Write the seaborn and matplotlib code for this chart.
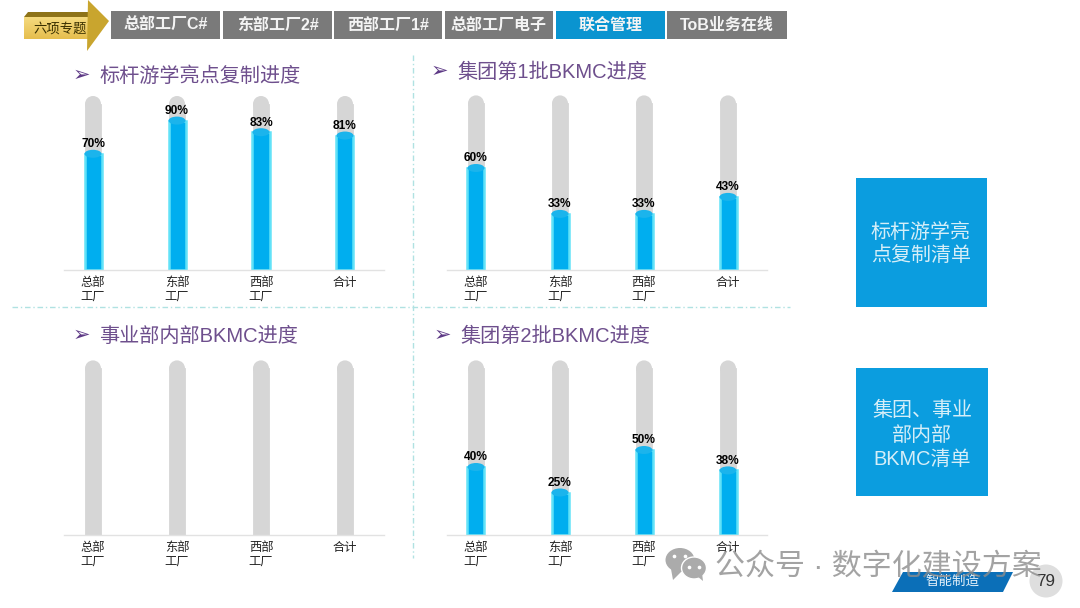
#!/usr/bin/env python3

import matplotlib
matplotlib.use('Agg')
import matplotlib.pyplot as plt
import numpy as np
import pandas as pd
import seaborn as sns
from matplotlib.colors import LinearSegmentedColormap
from matplotlib.patches import Ellipse, Polygon, Rectangle, Circle

# data
sites = ['总部\n工厂', '东部\n工厂', '西部\n工厂', '合计']
benchmark_values = [0.70, 0.90, 0.83, 0.81]
batch1_values = [0.60, 0.33, 0.33, 0.43]
internal_values = []
batch2_values = [0.40, 0.25, 0.50, 0.38]
track_values = [0.98, 0.98, 0.98, 0.98]
benchmark_tracks = [1.0, 1.0, 1.0, 1.0]

benchmark_title = '标杆游学亮点复制进度'
batch1_title = '集团第1批BKMC进度'
internal_title = '事业部内部BKMC进度'
batch2_title = '集团第2批BKMC进度'

tab_labels = ['总部工厂C#', '东部工厂2#', '西部工厂1#', '总部工厂电子', '联合管理', 'ToB业务在线']

W, H = 1080, 608
FONT = ['Liberation Sans', 'Noto Sans CJK SC', 'DejaVu Sans']

sns.set_theme(style='white')
plt.rcParams['font.family'] = FONT
plt.rcParams['axes.unicode_minus'] = False


def add_panel(fig, left, baseline, values, tracks, scale, title, title_x, title_y):
    # axes box is 320px wide with the first bar 29px in from its left edge
    ax = fig.add_axes([left / W, 1 - baseline / H, 320 / W, 180 / H])
    ax.patch.set_alpha(0)

    track_df = pd.DataFrame({'site': sites, 'value': tracks})
    sns.barplot(data=track_df, x='site', y='value', color='#D6D6D6', width=16 / 84,
                saturation=1, errorbar=None, edgecolor='#D6D6D6', linewidth=0.6,
                ax=ax, zorder=1)
    for bar in ax.containers[-1]:
        ax.add_patch(Ellipse((bar.get_x() + bar.get_width() / 2, bar.get_height()),
                             bar.get_width(), 16 / scale,
                             color='#D6D6D6', lw=0, zorder=1))

    if values:
        df = pd.DataFrame({'site': sites, 'value': values})
        sns.barplot(data=df, x='site', y='value', color='#00AEEF', width=17 / 84,
                    saturation=1, errorbar=None, edgecolor='#62E2F8', linewidth=1.8,
                    ax=ax, zorder=2)
        bars = ax.containers[-1]
        for bar in bars:
            ax.add_patch(Ellipse((bar.get_x() + bar.get_width() / 2, bar.get_height()),
                                 bar.get_width(), 8 / scale,
                                 color='#1BB4EC', lw=0, zorder=3))
        ax.bar_label(bars, labels=[f'{v:.0%}' for v in values], padding=2.6,
                     fontsize=8.6, fontweight='bold', color='black', zorder=4)

    ax.set_xlim(-29 / 84, 291 / 84)
    ax.set_ylim(0, 180 / scale)
    ax.set_xlabel('')
    ax.set_ylabel('')
    ax.set_yticks([])
    ax.tick_params(axis='x', length=0, pad=5, labelsize=8.8, labelcolor='#222222')
    for label in ax.get_xticklabels():
        label.set_linespacing(1.15)
    sns.despine(ax=ax, left=True)
    ax.spines['bottom'].set_color('#E2E2E2')
    ax.spines['bottom'].set_linewidth(1)

    fig.text((title_x + 18) / W, 1 - (title_y + 1) / H, title, fontsize=14.5, color='#6E4F8D',
             ha='left', va='center')
    fig.text(title_x / W, 1 - title_y / H, '➢', fontsize=15, color='#5E3A86',
             ha='center', va='center', family=['DejaVu Sans'])
    return ax


fig = plt.figure(figsize=(W / 100, H / 100), dpi=100, facecolor='white')

add_panel(fig, 64, 270, benchmark_values, benchmark_tracks, 166, benchmark_title, 81, 75)
add_panel(fig, 447, 270, batch1_values, track_values, 170, batch1_title, 439, 71)
add_panel(fig, 64, 535, internal_values, track_values, 170, internal_title, 81, 335)
add_panel(fig, 447, 535, batch2_values, track_values, 170, batch2_title, 442, 335)

# page furniture, drawn in pixel coordinates over the whole figure
deco = fig.add_axes([0, 0, 1, 1])
deco.axis('off')
deco.patch.set_alpha(0)

# dotted dividers
deco.plot([12, 790], [307, 307], color='#B0E2E2', lw=1, ls=(0, (4, 2, 1, 2)))
deco.plot([413, 413], [55, 558], color='#B0E2E2', lw=1, ls=(0, (4, 2, 1, 2)))

# gold arrow, body with a vertical gradient
gold = LinearSegmentedColormap.from_list('gold', ['#F5DA7E', '#E6BE4E'])
body = Polygon([(24, 17), (88, 17), (88, 39), (24, 39)], closed=True, transform=deco.transData,
               fc='none', lw=0)
deco.add_patch(body)
grad = deco.imshow(np.linspace(0, 1, 32).reshape(-1, 1), cmap=gold, aspect='auto',
                   extent=(24, 88, 39, 17), zorder=1)
grad.set_clip_path(body)
deco.add_patch(Polygon([(24, 17), (28, 12), (88, 12), (88, 17)], closed=True, color='#8E7318',
                       lw=0, zorder=2))
deco.add_patch(Polygon([(88, 0), (109, 21), (87, 51)], closed=True, color='#C9A52E', lw=0, zorder=2))
deco.text(60, 29, '六项专题', fontsize=9.6, color='#3A3000', ha='center', va='center', zorder=3)

# header tabs
tab_edges = [(111, 220), (223, 332), (334, 442), (445, 553), (556, 665), (667, 787)]
for label, (x0, x1) in zip(tab_labels, tab_edges):
    face = '#0A94D0' if label == '联合管理' else '#7A7A7A'
    deco.add_patch(Rectangle((x0, 11), x1 - x0, 28, color=face, lw=0, zorder=2))
    deco.text((x0 + x1) / 2, 25, label, fontsize=11.5, fontweight='bold', color='#F4F4F4',
              ha='center', va='center', zorder=3)

# right hand boxes
deco.add_patch(Rectangle((856, 178), 131, 129, color='#0B9DDF', lw=0, zorder=2))
deco.text(921, 244, '标杆游学亮\n点复制清单', fontsize=14.4, color='#D5EEF8', ha='center',
          va='center', linespacing=1.28, zorder=3)
deco.add_patch(Rectangle((856, 368), 132, 128, color='#0B9DDF', lw=0, zorder=2))
deco.text(922, 435, '集团、事业\n部内部\nBKMC清单', fontsize=14.4, color='#D5EEF8', ha='center',
          va='center', linespacing=1.35, zorder=3)

# footer
deco.add_patch(Polygon([(903, 572), (1013, 572), (1003, 592), (892, 592)], closed=True,
                       color='#0B6FB8', lw=0, zorder=2))
deco.text(952, 582, '智能制造', fontsize=9.7, color='#E8F3FA', ha='center', va='center', zorder=3)
deco.add_patch(Circle((1046, 581), 16.5, color='#DEDEDE', lw=0, zorder=2))
deco.text(1046, 581, '79', fontsize=12.3, color='#333333', ha='center', va='center', zorder=3)

# watermark
deco.add_patch(Ellipse((680, 560), 29, 24, color='#ABABAB', lw=0, zorder=2))
deco.add_patch(Polygon([(671, 569), (673, 580), (682, 571)], closed=True, color='#ABABAB', lw=0, zorder=2))
deco.add_patch(Ellipse((694, 568), 25, 22, fc='#ABABAB', ec='white', lw=1, zorder=2))
deco.add_patch(Polygon([(697, 576), (703, 581), (702, 573)], closed=True, color='#ABABAB', lw=0, zorder=2))
deco.scatter([674, 685, 689, 699], [556, 556, 567, 567], s=7, color='white', lw=0, zorder=5)
deco.text(715, 567, '公众号 · 数字化建设方案', fontsize=21.6, color='#8C8C8C', alpha=0.8,
          ha='left', va='center', zorder=4)

deco.set_xlim(0, W)
deco.set_ylim(H, 0)

fig.savefig('out.png', dpi=100, facecolor='white')
